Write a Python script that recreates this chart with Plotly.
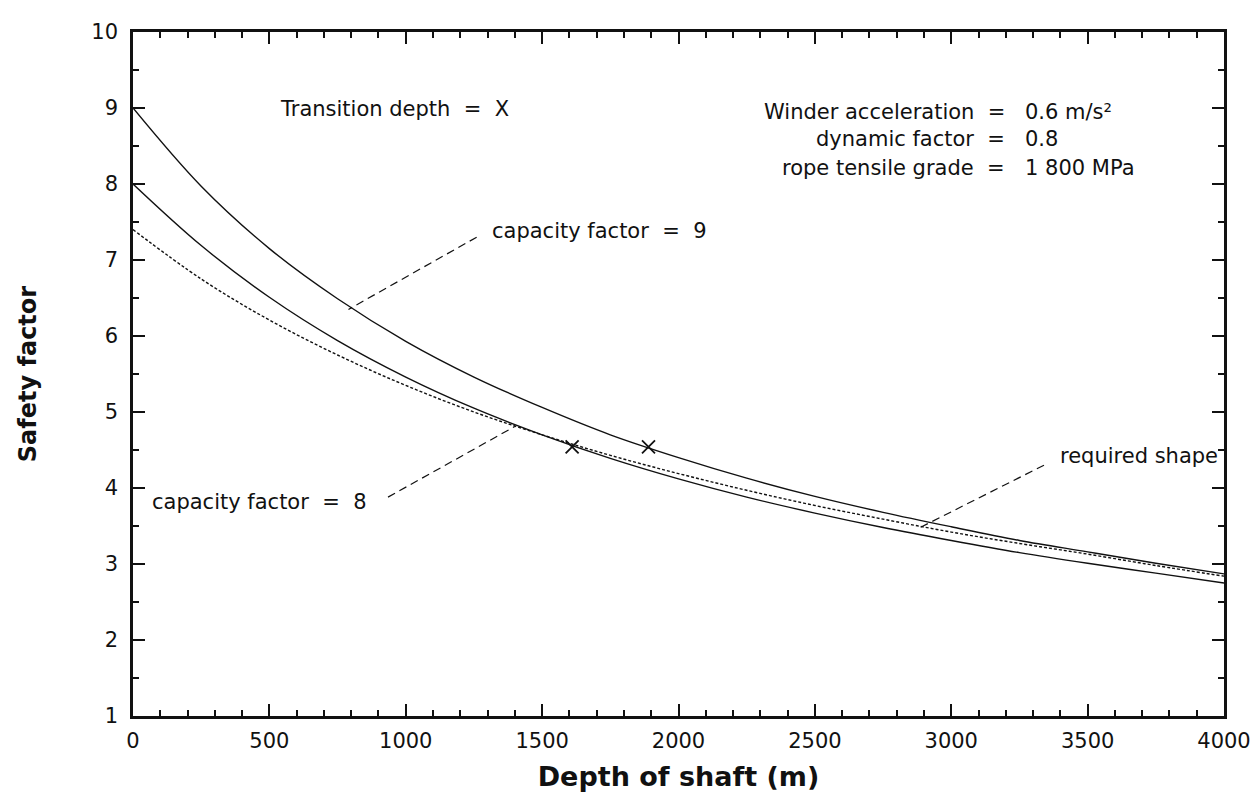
import plotly.graph_objects as go

# depth of shaft (m)
depth = [0, 250, 500, 750, 1000, 1250, 1500, 1750, 2000,
         2250, 2500, 2750, 3000, 3250, 3500, 3750, 4000]

# safety factor curves
sf_cap9 = [9.00, 7.97, 7.15, 6.49, 5.93, 5.46, 5.06, 4.70, 4.40,
           4.13, 3.89, 3.68, 3.49, 3.31, 3.16, 3.01, 2.87]
sf_cap8 = [8.00, 7.19, 6.51, 5.94, 5.46, 5.05, 4.70, 4.39, 4.12,
           3.88, 3.67, 3.48, 3.31, 3.15, 3.01, 2.88, 2.75]
sf_required = [7.40, 6.75, 6.21, 5.75, 5.35, 5.00, 4.70, 4.43, 4.19,
               3.97, 3.77, 3.59, 3.42, 3.27, 3.13, 2.98, 2.84]

# transition depths (X markers)
trans_depth = [1610, 1890]
trans_sf = [4.54, 4.54]

FONT = 'DejaVu Sans, Verdana, sans-serif'
INK = '#111111'

fig = go.Figure()

for ys, dash in [(sf_cap9, 'solid'), (sf_cap8, 'solid'), (sf_required, '3px,2px')]:
    fig.add_trace(go.Scatter(
        x=depth, y=ys, mode='lines', line_shape='spline',
        line=dict(color=INK, width=1.4, dash=dash),
        showlegend=False, hoverinfo='skip',
    ))

fig.add_trace(go.Scatter(
    x=trans_depth, y=trans_sf, mode='markers',
    marker=dict(symbol='x-thin-open', size=13, color=INK,
                line=dict(color=INK, width=1.8)),
    showlegend=False, hoverinfo='skip',
))

# dashed leader lines
leaders = [
    ((1260, 7.30), (790, 6.35)),
    ((935, 3.88), (1400, 4.81)),
    ((3340, 4.30), (2880, 3.47)),
]
for (x0, y0), (x1, y1) in leaders:
    fig.add_shape(type='line', x0=x0, y0=y0, x1=x1, y1=y1, xref='x', yref='y',
                  line=dict(color=INK, width=1.2, dash='8px,5px'))

ann_font = dict(family=FONT, size=21, color=INK)
notes = [
    (532, 8.99, 'left', 'Transition depth  =  X'),
    (1310, 7.38, 'left', 'capacity factor  =  9'),
    (62, 3.82, 'left', 'capacity factor  =  8'),
    (3985, 4.42, 'right', 'required shape'),
    (3205, 8.95, 'right', 'Winder acceleration  ='),
    (3205, 8.59, 'right', 'dynamic factor  ='),
    (3205, 8.21, 'right', 'rope tensile grade  ='),
    (3262, 8.95, 'left', '0.6 m/s²'),
    (3262, 8.59, 'left', '0.8'),
    (3262, 8.21, 'left', '1 800 MPa'),
]
for x, y, anchor, txt in notes:
    fig.add_annotation(x=x, y=y, text=txt, xanchor=anchor, yanchor='middle',
                       showarrow=False, font=ann_font)

axis_common = dict(
    showline=True, linecolor=INK, linewidth=2.5, mirror='allticks',
    ticks='inside', ticklen=12, tickwidth=2, tickcolor=INK,
    showgrid=False, zeroline=False,
    tickfont=dict(family=FONT, size=21, color=INK),
)

fig.update_xaxes(
    range=[0, 4000], dtick=500, tick0=0,
    minor=dict(dtick=100, ticklen=6, tickwidth=1.5, tickcolor=INK, ticks='inside'),
    title=dict(text='<b>Depth of shaft (m)</b>', font=dict(family=FONT, size=27, color=INK),
               standoff=16),
    ticklabelstandoff=4,
    **axis_common,
)
fig.update_yaxes(
    range=[1, 10], dtick=1, tick0=1,
    minor=dict(dtick=0.5, ticklen=6, tickwidth=1.5, tickcolor=INK, ticks='inside'),
    title=dict(text='<b>Safety factor</b>', font=dict(family=FONT, size=24, color=INK),
               standoff=48),
    ticklabelstandoff=8,
    **axis_common,
)

fig.update_layout(
    width=1259, height=802,
    margin=dict(l=125, r=43, t=20, b=94),
    paper_bgcolor='white', plot_bgcolor='white',
    font=dict(family=FONT, color=INK),
)

fig.write_html("out.html")
